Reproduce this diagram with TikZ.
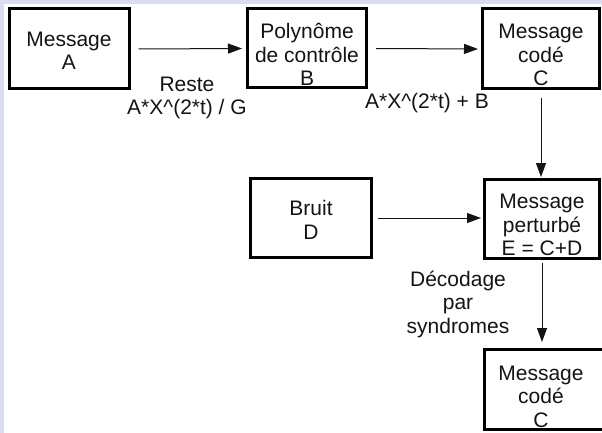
\documentclass[tikz,border=0pt]{standalone}
\usepackage{fontspec}
\setmainfont{Liberation Sans}
\usetikzlibrary{arrows.meta}
\definecolor{lav}{RGB}{220,220,240}
\definecolor{ink}{RGB}{20,20,20}
\begin{document}
\begin{tikzpicture}[x=1pt,y=-1pt,
  box/.style={draw=black,line width=3pt,inner sep=0pt},
  lbl/.style={align=center,inner sep=0pt,font=\fontsize{21}{23.5}\selectfont,text=ink},
  arr/.style={draw=ink,line width=1pt,-{Triangle[length=14pt,width=10pt]}}]
\useasboundingbox (0,0) rectangle (602,433);
\fill[lav] (0,0) rectangle (602,433);
\fill[white] (4,4) rectangle (602,433);
\clip (0,0) rectangle (602,433);
\node[box,minimum width=120pt,minimum height=80pt,
  label={[lbl,yshift=-2pt]center:{Message\\A}}] (A) at (69,49) {};
\node[box,minimum width=119pt,minimum height=79pt,
  label={[lbl,yshift=-6pt]center:{Polynôme\\de contrôle\\B}}] (B) at (307,48.5) {};
\node[box,minimum width=117pt,minimum height=80pt,
  label={[lbl,yshift=-6pt]center:{Message\\codé\\C}}] (C) at (541,49) {};
\node[box,minimum width=121pt,minimum height=79pt,
  label={[lbl,yshift=-2pt]center:{Bruit\\D}}] (D) at (311,218) {};
\node[box,minimum width=115pt,minimum height=79pt,
  label={[lbl,yshift=-6pt]center:{Message\\perturbé\\E = C+D}}] (E) at (542,219) {};
\node[box,minimum width=128pt,minimum height=80pt] (F) at (548,389.5) {};
\node[lbl] (Ft) at (541,396.5) {Message\\codé\\C};
\node[lbl] (r) at (187,98) {Reste\\A*X\textasciicircum(2*t) / G};
\node[lbl] (s) at (427,103) {A*X\textasciicircum(2*t) + B};
\node[lbl] (dec) at (458,304) {Décodage\\par\\syndromes};
\draw[arr] ([xshift=8pt]A.east) -- ([xshift=-4pt]B.west);
\draw[arr] ([xshift=8pt]B.east) -- ([xshift=-3pt]C.west);
\draw[arr] ([yshift=-8pt]C.south) -- ([yshift=1pt]C.south |- E.north);
\draw[arr] ([xshift=5pt]D.east) -- ([xshift=-2pt]D.east -| E.west);
\draw[arr] ([yshift=-3pt]E.south) -- ([yshift=6pt]E.south |- F.north);
\end{tikzpicture}
\end{document}
